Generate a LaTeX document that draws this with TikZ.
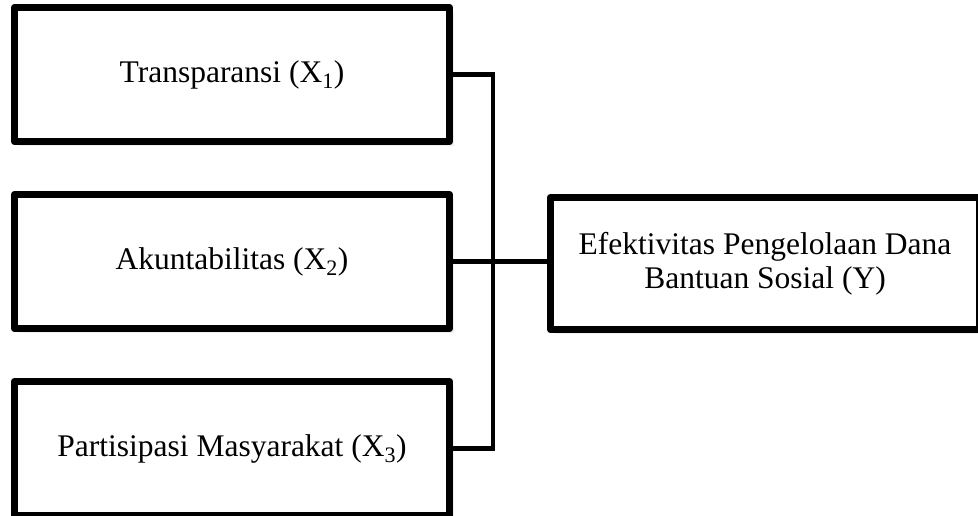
\documentclass[tikz,border=0pt]{standalone}
\usepackage{fontspec}
\setmainfont{Liberation Serif}
\usetikzlibrary{positioning,shadows}

\begin{document}
\begin{tikzpicture}[
    x=1pt, y=1pt,
    node distance=53pt,
    var/.style={rectangle, draw, line width=7.5pt, line join=round, fill=white, outer sep=0pt,
        minimum width=435pt, minimum height=134pt, align=center,
        font=\fontsize{31.5}{34}\selectfont,
        drop shadow={shadow xshift=4.5pt, shadow yshift=-4.5pt, opacity=0.12}},
    result/.style={var, minimum width=429pt, minimum height=132pt},
    link/.style={line width=4.2pt}
]
    \useasboundingbox (0,0) rectangle (978,-516);

    % Independent variables
    \node [var] (trans) at (232,-74.5) {Transparansi (X\textsubscript{1})};
    \node [var, below=of trans] (akun) {Akuntabilitas (X\textsubscript{2})};
    \node [var, below=of akun] (part) {Partisipasi Masyarakat (X\textsubscript{3})};

    % Dependent variable
    \node [result, right=101pt of akun, yshift=-2pt] (efek) {Efektivitas Pengelolaan Dana\\Bantuan Sosial (Y)};

    % Connections
    \coordinate (junc) at (493,0);
    \draw [link] (trans.east) -| (junc |- part.east) -- (part.east);
    \draw [link] (akun.east) -- (akun.east -| efek.west);
\end{tikzpicture}
\end{document}
